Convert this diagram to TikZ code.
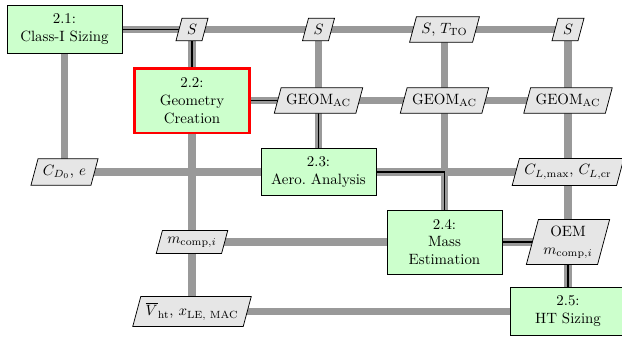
\documentclass[tikz,border=0pt]{standalone}
\usepackage{amsmath}
\usetikzlibrary{shapes.geometric}
\pgfdeclarelayer{bg}
\pgfsetlayers{bg,main}
\definecolor{fcol}{HTML}{CCFFCC}
\definecolor{dcol}{HTML}{E6E6E6}
\definecolor{lcol}{HTML}{999999}
\tikzset{
 func/.style={draw=black, fill=fcol, align=center, minimum width=77.2pt, line width=0.5pt},
 data/.style={trapezium, trapezium left angle=75, trapezium right angle=105, draw, fill=dcol, align=center, line width=0.5pt, inner xsep=3.33pt, inner ysep=4.2pt},
 dline/.style={draw=lcol, line width=5pt},
 pline/.style={draw=black, line width=1pt},
}
\begin{document}
\begin{tikzpicture}[x=0.671pt,y=-0.671pt]
\useasboundingbox (0,0) rectangle (622,336);
% row 1
\node[func, minimum height=32.2pt] (n21) at (64.5,29.5) {2.1:\\Class-I Sizing};
\node[data] (S2) at (192,29.5) {$S$};
\node[data] (S3) at (318.5,29.5) {$S$};
\node[data] (S4) at (444.5,29.5) {$S$, $T_{\text{TO}}$};
\node[data] (S5) at (568,29.5) {$S$};
% row 2
\node[func, draw=red, line width=2pt, minimum height=43.6pt] (n22) at (192,100.5) {2.2:\\Geometry\\Creation};
\node[data] (G3) at (318.5,100.5) {$\text{GEOM}_{\text{AC}}$};
\node[data] (G4) at (444.5,100.5) {$\text{GEOM}_{\text{AC}}$};
\node[data] (G5) at (568,100.5) {$\text{GEOM}_{\text{AC}}$};
% row 3
\node[data] (CD) at (64.5,172) {$C_{D_0}$, $e$};
\node[func, minimum height=31.5pt] (n23) at (318.5,172) {2.3:\\Aero.\ Analysis};
\node[data] (CL) at (568,172) {$C_{L,\max}$, $C_{L,\text{cr}}$};
% row 4
\node[data] (MC) at (192,242) {$m_{\text{comp},i}$};
\node[func, minimum height=43pt] (n24) at (444.5,242) {2.4:\\Mass\\Estimation};
\node[data] (OEM) at (568,242) {OEM\\$m_{\text{comp},i}$};
% row 5
\node[data] (VH) at (192,311.5) {$\overline{V}_{\text{ht}}$, $x_{\text{LE, MAC}}$};
\node[func, minimum height=32.2pt] (n25) at (568,311.5) {2.5:\\HT Sizing};
\begin{pgfonlayer}{bg}
\draw[dline] (n21.center) -- (S5.center);
\draw[dline] (n22.center) -- (G5.center);
\draw[dline] (CD.center) -- (CL.center);
\draw[dline] (MC.center) -- (OEM.center);
\draw[dline] (VH.center) -- (n25.center);
\draw[dline] (n21.center) -- (CD.center);
\draw[dline] (S2.center) -- (VH.center);
\draw[dline] (S3.center) -- (n23.center);
\draw[dline] (S4.center) -- (n24.center);
\draw[dline] (S5.center) -- (n25.center);
\draw[pline] (n21.center) -- (S2.center) -- (n22.center);
\draw[pline] (n22.center) -- (G3.center) -- (n23.center);
\draw[pline] (n23.center) -| (n24.center);
\draw[pline] (n24.center) -- (OEM.center) -- (n25.center);
\end{pgfonlayer}
\end{tikzpicture}
\end{document}
